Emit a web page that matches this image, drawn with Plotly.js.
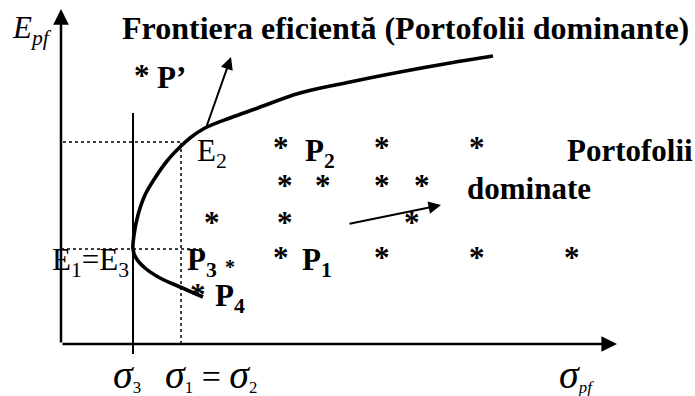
<!DOCTYPE html>
<html>
<head>
<meta charset="utf-8">
<script src="https://cdn.plot.ly/plotly-3.0.1.min.js"></script>
<style>html,body{margin:0;padding:0;background:#fff;}#chart{width:695px;height:396px;}</style>
</head>
<body>
<div id="chart"></div>
<script>
// ---- data (sigma = risk, E = expected return, arbitrary diagram units) ----
const frontierSigma = [142,119,99,84,75,72,73,77,84,94,106,119,129,144,169,194,239,289,339,389,432];
const frontierE     = [47,57,66,76,86,95,109,129,149,166,183,197,206,216,226,235,251,262,272,281,288];

const dominatedSigma = [220,321,416, 224,262,321,361, 151,224,351, 220,321,416,511];
const dominatedE     = [199,199,199, 161,161,161,161, 124,124,124, 89,89,89,89];

const namedStarSigma = [81,137];   // P', P4
const namedStarE     = [271,52];
const smallStarSigma = [169];      // next to P3
const smallStarE     = [79];

const sigma3 = 72, sigma12 = 120, E12 = 202, E13 = 95;
const sigma3LineE = [-10, 231];

// arrows: [tailSigma, tailE, tipSigma, tipE]
const axisY = [0,0,0,335];
const axisX = [0,0,556,0];
const frontierArrow = [145,216,170,287];
const dominatedArrow = [287,120,380,139];

// labels
const labelText = [
  "<b>Frontiera eficientă (Portofolii dominante)</b>",
  "<i>E</i><sub><i>pf</i></sub>",
  "<b>P’</b>",
  "E<sub>2</sub>",
  "<b>P<sub>2</sub></b>",
  "<b>Portofolii</b>",
  "<b>dominate</b>",
  "E<sub>1</sub>=E<sub>3</sub>",
  "<b>P<sub>3</sub></b>",
  "<b>P<sub>1</sub></b>",
  "<b>P<sub>4</sub></b>"
];
const labelSigma = [59,-51,94,134,242,504,404,-11,124,239,152];
const labelE     = [316,314,267,191,191,194,156,82,82,82,46];
const labelSize  = [32,31,31,31,31,31,31,31,31,31,31];

const sigmaText = ["σ<sub>3</sub>", "σ<sub>1</sub> = σ<sub>2</sub>", "σ<sub><i>pf</i></sub>"];
const sigmaTextSigma = [50,102,496];
const sigmaTextE = [-35,-35,-35];

// ---- build ----
const FONT = "Liberation Serif, Times New Roman, serif";
const traces = [
  {x: frontierSigma, y: frontierE, mode: 'lines', line: {color: '#000', width: 3.6, shape: 'spline', smoothing: 1}, hoverinfo: 'skip'},
  {x: [sigma3, sigma3], y: sigma3LineE, mode: 'lines', line: {color: '#000', width: 2}, hoverinfo: 'skip'},
  {x: [sigma12, sigma12], y: [0, E12], mode: 'lines', line: {color: '#000', width: 1.5, dash: 'dot'}, hoverinfo: 'skip'},
  {x: [2, sigma12], y: [E12, E12], mode: 'lines', line: {color: '#000', width: 1.5, dash: 'dot'}, hoverinfo: 'skip'},
  {x: [0, 144], y: [E13, E13], mode: 'lines', line: {color: '#000', width: 1.5, dash: 'dot'}, hoverinfo: 'skip'}
];

function arrow(a, w, size) {
  return {x: a[2], y: a[3], ax: a[0], ay: a[1], xref: 'x', yref: 'y', axref: 'x', ayref: 'y',
    text: '', showarrow: true, arrowhead: 2, arrowsize: size, arrowwidth: w, arrowcolor: '#000', standoff: 0, startstandoff: 0};
}
const annotations = [
  arrow(axisY, 2.5, 1.25), arrow(axisX, 2.5, 1.25),
  arrow(frontierArrow, 2, 1.25), arrow(dominatedArrow, 2, 1.25)
];
function star(x, y, size, shift) {
  return {x: x, y: y, xref: 'x', yref: 'y', text: '<b>*</b>', showarrow: false,
    xanchor: 'center', yanchor: 'middle', yshift: shift, font: {family: FONT, size: size, color: '#000'}};
}
dominatedSigma.concat(namedStarSigma).forEach((s, i) => annotations.push(star(s, dominatedE.concat(namedStarE)[i], 31, -2)));
smallStarSigma.forEach((s, i) => annotations.push(star(s, smallStarE[i], 20, -2)));

labelText.forEach((t, i) => annotations.push({
  x: labelSigma[i], y: labelE[i], xref: 'x', yref: 'y', text: t, showarrow: false,
  xanchor: 'left', yanchor: 'middle', font: {family: FONT, size: labelSize[i], color: '#000'}
}));
sigmaText.forEach((t, i) => annotations.push({
  x: sigmaTextSigma[i], y: sigmaTextE[i], xref: 'x', yref: 'y',
  text: t.replace(/σ/g, '<span style="font-size:40px"><i>σ</i></span>')
         .replace(' = ', '<span style="font-size:34px"> = </span>'),
  showarrow: false,
  xanchor: 'left', yanchor: 'middle', yshift: 5, font: {family: FONT, size: 24, color: '#000'}
}));

const layout = {
  width: 695, height: 396, margin: {l: 0, r: 0, t: 0, b: 0},
  paper_bgcolor: '#fff', plot_bgcolor: '#fff', showlegend: false,
  xaxis: {range: [-61, 634], visible: false, fixedrange: true},
  yaxis: {range: [-52, 344], visible: false, fixedrange: true},
  annotations: annotations
};
Plotly.newPlot('chart', traces, layout, {displayModeBar: false, staticPlot: true});
</script>
</body>
</html>
